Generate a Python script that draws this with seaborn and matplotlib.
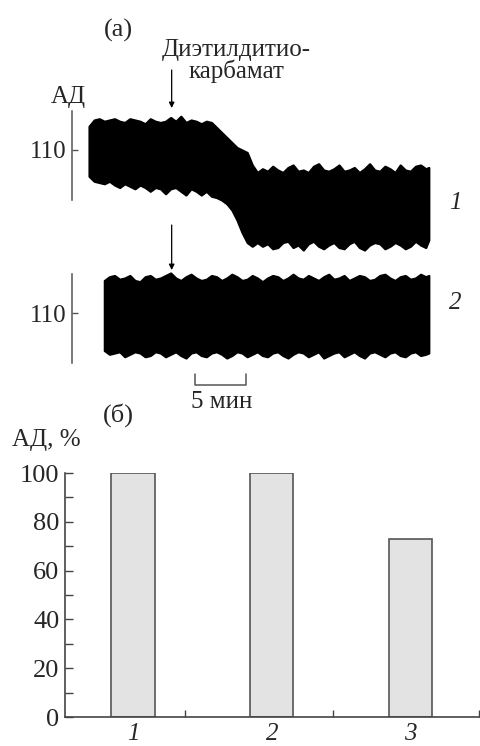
import matplotlib
matplotlib.use("Agg")
import matplotlib.pyplot as plt
import pandas as pd
import seaborn as sns

W, H = 481, 746

# (a) blood pressure record: envelope of the trace (mmHg) sampled every 0.5 min
TIME_MIN = [
    0.0, 0.5, 1.0, 1.5, 2.0, 2.5, 3.0, 3.5, 4.0, 4.5,
    5.0, 5.5, 6.0, 6.5, 7.0, 7.5, 8.0, 8.5, 9.0, 9.5,
    10.0, 10.5, 11.0, 11.5, 12.0, 12.5, 13.0, 13.5, 14.0, 14.5,
    15.0, 15.5, 16.0, 16.5, 17.0, 17.5, 18.0, 18.5, 19.0, 19.5,
    20.0, 20.5, 21.0, 21.5, 22.0, 22.5, 23.0, 23.5, 24.0, 24.5,
    25.0, 25.5, 26.0, 26.5, 27.0, 27.5, 28.0, 28.5, 29.0, 29.5,
    30.0, 30.5, 31.0, 31.5, 32.0, 32.5, 33.0, 33.3,
]
TRACE1_TOP = [
    119.5, 122, 122.5, 121.5, 122, 122.5, 121.5, 121, 122.5, 122,
    121.5, 120.5, 122.5, 121.5, 121, 121.5, 123, 121.5, 123.5, 121,
    122, 121.5, 120.5, 121.5, 121, 119, 117, 115, 113, 111,
    110, 109, 104, 101, 102.5, 101.5, 103.5, 102, 101, 103,
    104, 101.5, 102, 101, 103.5, 104.5, 102, 101.5, 102.5, 104,
    101.5, 102, 103, 101, 102.5, 104.5, 102, 101.5, 103.5, 102.5,
    101, 104, 102, 101.5, 103.5, 104, 102.5, 103,
]
TRACE1_BOTTOM = [
    99.5, 97.5, 97, 96.5, 97.5, 96, 95, 96.5, 95.5, 94.5,
    96, 95, 93.5, 95, 94.5, 92.5, 94.5, 95, 93.5, 92,
    94.5, 93.5, 92, 93.5, 91.5, 91, 90, 88.5, 86, 82,
    77, 73, 71.5, 73, 71.5, 72.5, 70.5, 71, 73, 73.5,
    71, 72, 70, 72.5, 73.5, 71.5, 70.5, 72, 73, 71,
    70.5, 72.5, 73.5, 71, 70, 72, 73, 72.5, 70.5, 71.5,
    73, 72, 70.5, 71.5, 73.5, 72, 71, 74,
]
TRACE2_TIME = TIME_MIN[3:]  # second record starts 1.5 min later
TRACE2_TOP = [
    123, 124.5, 125, 123.5, 124, 125, 123, 122.5, 124.5, 125,
    123.5, 124, 125, 126, 124, 123, 124.5, 125.5, 124, 123,
    123.5, 125, 124.5, 123, 124, 125.5, 124.5, 123, 123.5, 125,
    124, 122.5, 124, 125, 124.5, 123, 124, 125.5, 124, 123.5,
    125, 124, 123, 124.5, 125.5, 123.5, 124, 125, 123, 124,
    125, 124.5, 123, 123.5, 125, 125.5, 124, 123, 124.5, 125,
    123.5, 124, 125.5, 124.5, 125,
]
TRACE2_BOTTOM = [
    95, 93.5, 94, 94.5, 92.5, 93.5, 94.5, 94, 92.5, 93,
    94.5, 94, 92.5, 93.5, 94.5, 93, 92, 94, 94.5, 93,
    92.5, 94, 94.5, 93.5, 92, 93, 94.5, 94, 92.5, 93.5,
    94.5, 93, 92.5, 94, 94.5, 93, 92, 93.5, 94.5, 94,
    92.5, 93.5, 94.5, 92, 93, 94, 94.5, 92.5, 93.5, 94.5,
    93, 92, 94, 94.5, 93.5, 92.5, 94, 94.5, 93, 92.5,
    94, 94.5, 93, 93.5, 94,
]
INJECTION_MIN = 8.1
SCALE_START_MIN = 10.4
SCALE_LEN_MIN = 5

# (б) bar chart
GROUPS = ["1", "2", "3"]
BP_PERCENT = [100, 100, 73]

sns.set_style("ticks")
plt.rcParams["font.family"] = ["Liberation Serif", "DejaVu Serif"]
plt.rcParams["font.size"] = 18
GREY = "#555555"


def px_axes(fig, x0, y0, x1, y1):
    return fig.add_axes([x0 / W, 1 - y1 / H, (x1 - x0) / W, (y1 - y0) / H])


def trace_panel(ax, t, top, bottom, ylim):
    band = ax.fill_between(t, bottom, top, color="black", edgecolor="black",
                           lw=1.6)
    band.set_joinstyle("round")
    ax.set_xlim(-1.67, 34.4)
    ax.set_ylim(*ylim)
    for s in ["top", "right", "bottom"]:
        ax.spines[s].set_visible(False)
    ax.spines["left"].set_bounds(90, 125.5)
    ax.spines["left"].set_color(GREY)
    ax.spines["left"].set_linewidth(1.1)
    ax.set_xticks([])
    ax.set_yticks([110])
    ax.tick_params(axis="y", direction="in", length=4, width=1, color=GREY,
                   pad=4, labelsize=18)
    ax.patch.set_alpha(0)


fig = plt.figure(figsize=(W / 100, H / 100), dpi=100)

ax1 = px_axes(fig, 72, 105, 440, 260)
trace_panel(ax1, TIME_MIN, TRACE1_TOP, TRACE1_BOTTOM, (66, 128))
ax1.annotate("", xy=(INJECTION_MIN, 126.8), xytext=(INJECTION_MIN, 142),
             arrowprops=dict(arrowstyle="-|>", lw=0.9, color="black",
                             mutation_scale=8, shrinkA=0, shrinkB=0),
             annotation_clip=False)

ax2 = px_axes(fig, 72, 262, 440, 410)
trace_panel(ax2, TRACE2_TIME, TRACE2_TOP, TRACE2_BOTTOM, (71.2, 130.4))
ax2.annotate("", xy=(INJECTION_MIN, 127.2), xytext=(INJECTION_MIN, 145.2),
             arrowprops=dict(arrowstyle="-|>", lw=0.9, color="black",
                             mutation_scale=8, shrinkA=0, shrinkB=0),
             annotation_clip=False)
# 5 min scale bar
sx = [SCALE_START_MIN, SCALE_START_MIN, SCALE_START_MIN + SCALE_LEN_MIN,
      SCALE_START_MIN + SCALE_LEN_MIN]
ax2.plot(sx, [85.6, 81.2, 81.2, 85.6], color=GREY, lw=1.1, clip_on=False)

fig.text(118 / W, 1 - 30 / H, "(a)", ha="center", va="center", fontsize=19)
fig.text(236 / W, 1 - 61 / H, "Диэтилдитио-\nкарбамат", ha="center",
         va="center", fontsize=18, linespacing=0.95)
fig.text(68 / W, 1 - 97 / H, "АД", ha="center", va="center", fontsize=18)
fig.text(455 / W, 1 - 203 / H, "1", ha="center", va="center", fontsize=18,
         style="italic")
fig.text(455 / W, 1 - 303 / H, "2", ha="center", va="center", fontsize=18,
         style="italic")
fig.text(222 / W, 1 - 402 / H, "5 мин", ha="center", va="center", fontsize=18)

# (б)
ax3 = px_axes(fig, 65, 473, 480, 717)
df = pd.DataFrame({"group": GROUPS, "bp": BP_PERCENT})
sns.barplot(data=df, x="group", y="bp", color="#e3e3e3", edgecolor=GREY,
            linewidth=1.2, width=0.31, saturation=1, ax=ax3)
ax3.set_xlim(-0.49, 2.5)
ax3.set_ylim(0, 100)
ax3.set_xlabel("")
ax3.set_ylabel("")
for s in ["top", "right"]:
    ax3.spines[s].set_visible(False)
for s in ["left", "bottom"]:
    ax3.spines[s].set_color("#444444")
    ax3.spines[s].set_linewidth(1.2)
ax3.set_yticks([0, 20, 40, 60, 80, 100])
ax3.set_yticks([10, 30, 50, 70, 90], minor=True)
ax3.set_xticks([0.375, 1.44, 2.49], minor=True)
ax3.tick_params(axis="y", which="both", direction="in", length=6, width=1,
                color="#444444", pad=4, labelsize=19)
ax3.tick_params(axis="x", which="major", length=0, pad=4, labelsize=18)
ax3.tick_params(axis="x", which="minor", direction="in", length=5, width=1,
                color="#444444")
for lab in ax3.get_xticklabels():
    lab.set_style("italic")

fig.text(118 / W, 1 - 415 / H, "(б)", ha="center", va="center", fontsize=19)
fig.text(46 / W, 1 - 440 / H, "АД, %", ha="center", va="center", fontsize=18)

fig.savefig("out.png", dpi=100)
